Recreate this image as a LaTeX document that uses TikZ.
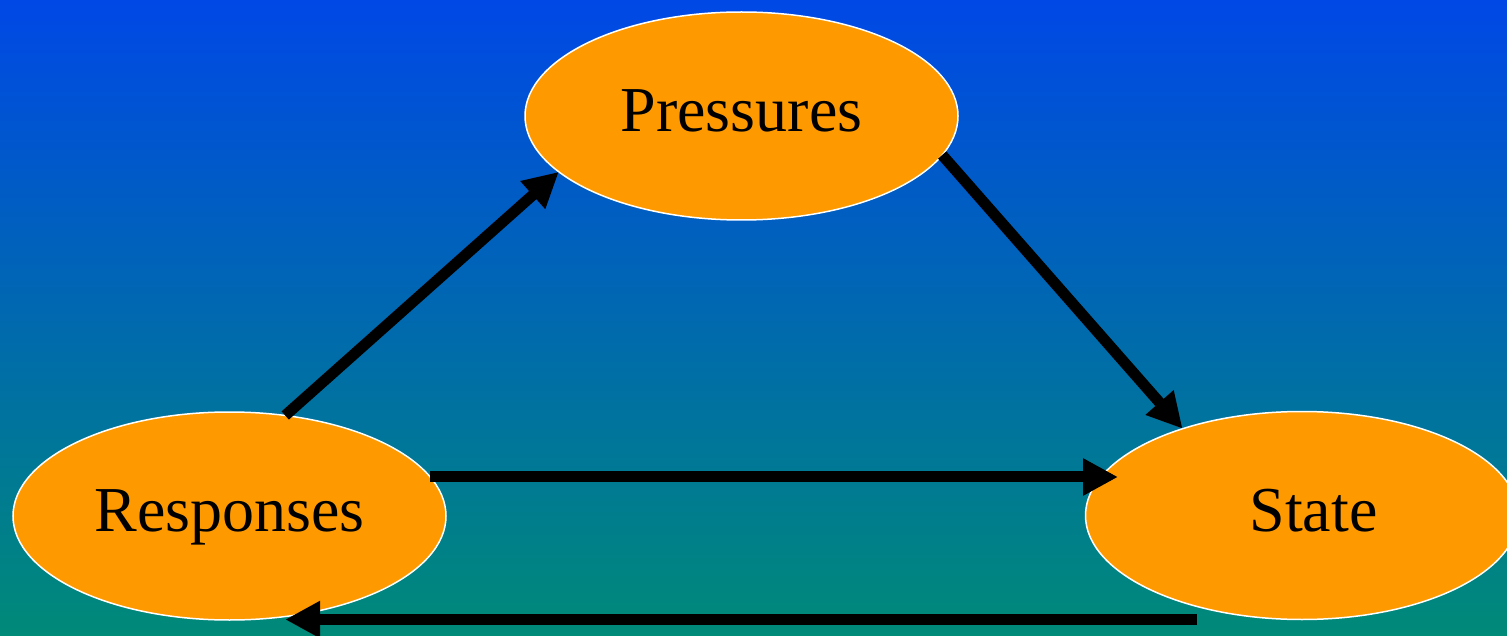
\documentclass[tikz,border=0pt]{standalone}
\usepackage{fontspec}
\setmainfont{Liberation Serif}
\usetikzlibrary{shapes.geometric, arrows.meta}
\definecolor{bgTop}{HTML}{0048E6}
\definecolor{bgMid}{HTML}{0072B8}
\definecolor{bgBottom}{HTML}{008A78}
\definecolor{mOrange}{HTML}{FF9900}

\begin{document}
\begin{tikzpicture}[x=1pt, y=-1pt,
  blob/.style={ellipse, draw=white, line width=1.5pt, fill=mOrange,
    minimum width=433pt, minimum height=208pt, inner sep=0pt, outer sep=0pt,
    text height=45pt, text depth=14pt, font=\fontsize{64}{70}\selectfont},
  flow/.style={line width=11pt, -{Triangle[length=35pt, width=35pt]}}]
  % background
  \shade[top color=bgTop, middle color=bgMid, bottom color=bgBottom] (0,0) rectangle (1507,636);
  \useasboundingbox (0,0) rectangle (1507,636);
  % the three stages
  \node[blob] (pres) at (741.5,116) {Pressures};
  \node[blob] (resp) at (229.5,516) {Responses};
  \node[blob] (state) at (1302,515.5) {\hspace*{23pt}State};
  % links
  \draw[flow] (resp.61) -- (pres.197);
  \draw[flow] (pres.349) -- (state.144);
  \draw[flow, shorten >=-14pt] (resp.11) -- (resp.11 -| state.168);
  \draw[flow] (state.221 |- state.south) -- (resp.299 |- state.south);
\end{tikzpicture}
\end{document}
